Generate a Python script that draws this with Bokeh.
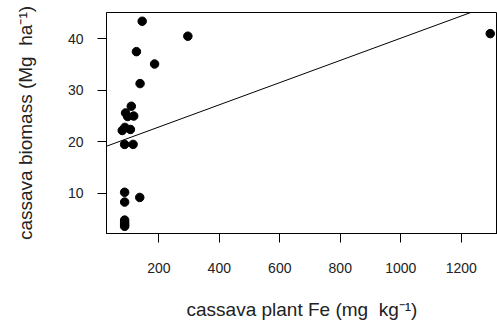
from bokeh.plotting import figure
from bokeh.models import Slope, FixedTicker, Range1d
from bokeh.embed import file_html
from bokeh.resources import INLINE

# data
plant_fe = [145, 296, 1296, 126, 186, 138, 109, 90, 97, 117, 79, 88, 106,
            87, 115, 87, 87, 137, 87, 87, 87, 87]
biomass = [43.4, 40.5, 41.0, 37.5, 35.1, 31.3, 26.9, 25.6, 24.9, 25.0, 22.2,
           22.8, 22.4, 19.5, 19.5, 10.2, 8.3, 9.2, 4.8, 4.3, 3.9, 3.6]
fit_intercept = 18.56
fit_slope = 0.02155
x_ticks = [200, 400, 600, 800, 1000, 1200]
y_ticks = [10, 20, 30, 40]

FONT = "Liberation Sans"
TXT = "#222222"

p = figure(width=497, height=330, output_backend="svg", toolbar_location=None,
           x_range=Range1d(27, 1320), y_range=Range1d(2.2, 45.1),
           min_border_left=106, min_border_right=0, min_border_top=12,
           min_border_bottom=97)
p.xgrid.visible = False
p.ygrid.visible = False
p.outline_line_color = "black"
p.outline_line_width = 1
p.background_fill_color = "white"
p.border_fill_color = "white"

p.scatter(plant_fe, biomass, size=8.5, color="black")
p.add_layout(Slope(gradient=fit_slope, y_intercept=fit_intercept,
                   line_color="black", line_width=1))

for ax in (p.xaxis[0], p.yaxis[0]):
    ax.axis_line_color = "black"
    ax.major_tick_line_color = "black"
    ax.minor_tick_line_color = None
    ax.major_tick_in = 0
    ax.major_tick_out = 9
    ax.major_label_text_font = FONT
    ax.major_label_text_font_size = "14px"
    ax.major_label_text_color = TXT
    ax.axis_label_text_font = FONT
    ax.axis_label_text_font_size = "19px"
    ax.axis_label_text_font_style = "normal"
    ax.axis_label_text_color = TXT

p.xaxis.ticker = FixedTicker(ticks=x_ticks)
p.yaxis.ticker = FixedTicker(ticks=y_ticks)
p.xaxis.axis_label = "cassava plant Fe (mg\u00a0 kg\u207b\u00b9)"
p.yaxis.axis_label = "cassava biomass (Mg\u00a0 ha\u207b\u00b9)"
p.xaxis.major_label_standoff = 20
p.yaxis.major_label_standoff = 14
p.xaxis.axis_label_standoff = 23
p.yaxis.axis_label_standoff = 29
p.yaxis.major_label_orientation = "horizontal"

open("out.html", "w").write(file_html(p, INLINE))
